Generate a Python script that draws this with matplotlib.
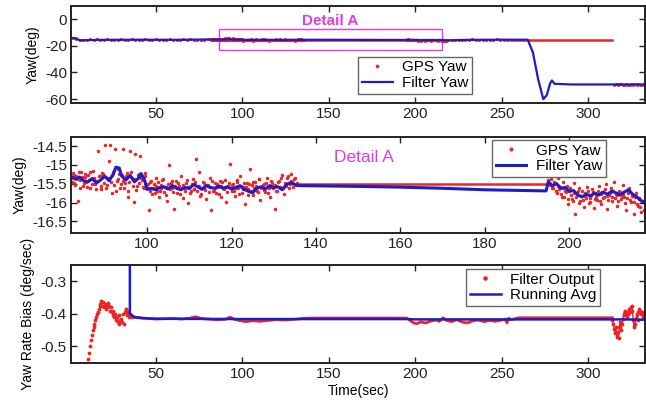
import numpy as np
import matplotlib
matplotlib.use("Agg")
from matplotlib import pyplot as plt
from matplotlib.patches import Rectangle

plt.rcParams["font.family"] = ["Liberation Sans", "DejaVu Sans"]
plt.rcParams["axes.unicode_minus"] = False

RED = "#ee2424"
BLUE = "#1c1cc8"
MAGENTA = "#e03ce0"

#=============================================================================
# GPS yaw (deg), noisy segments; sample times built from start + step
gps0_start, gps0_step = 2, 2
gps0_yaw = [-14.4, -15.2, -15.7, -15.4, -15.9, -15.3, -15.6, -15.1, -15.8, -15.5,
            -15.2, -15.7, -15.4, -15.9, -15.3, -15.6, -15.5, -15.0, -15.8, -15.4,
            -15.6, -15.2, -15.9, -15.5, -15.3, -15.7, -15.4, -15.8, -15.1, -15.6,
            -15.5, -15.9, -15.3, -15.6, -15.2, -15.7, -15.4, -15.8, -15.5, -15.3]

gpsA_start, gpsA_step = 82, 0.4
gpsA_yaw = [-15.35, -15.22, -15.48, -15.30, -15.95, -15.41, -15.18, -15.55, -15.33, -15.46,
            -15.27, -15.60, -15.38, -15.15, -15.50,
            -15.42, -14.62, -15.30, -15.65, -15.25, -14.48, -15.52, -15.36, -14.48, -15.75,
            -15.20, -14.58, -15.44, -15.10, -15.62,
            -15.28, -14.57, -15.48, -15.22, -15.70, -14.62, -15.35, -15.98, -14.70, -15.55,
            -15.25, -14.75, -15.40, -15.62, -15.30,
            -15.62, -16.21, -15.45, -15.78, -15.50, -15.35, -15.68, -15.85, -15.52, -15.40,
            -15.72, -15.58, -15.95, -15.01, -15.48,
            -15.60, -16.16, -15.42, -15.75, -15.55, -15.30, -15.88, -15.62, -15.48, -16.02,
            -15.58, -15.70, -15.38, -15.65, -14.84,
            -15.55, -15.20, -15.78, -15.45, -15.62, -15.90, -15.52, -15.35, -16.19, -15.68,
            -15.48, -15.75, -15.58, -15.42, -15.85,
            -15.60, -15.40, -15.98, -15.55, -14.97, -15.70, -15.50, -15.82, -15.45, -15.62,
            -15.30, -15.75, -15.58, -16.05, -15.48,
            -15.65, -15.10, -15.52, -15.80, -15.45, -15.68, -15.38, -15.92, -15.58, -15.50,
            -15.72, -15.35, -15.62, -15.85, -15.48,
            -15.55, -16.16, -15.70, -15.42, -15.60, -15.28, -15.78, -15.50, -15.35, -15.62,
            -15.25, -15.45, -15.38, -15.52]

# second receiver fix, interleaved half a step later
gpsA2_start, gpsA2_step = 82.2, 0.4
gpsA2_yaw = [-15.45, -15.28, -15.52, -15.38, -15.20, -15.62, -15.33, -15.47, -15.25, -15.58,
             -15.40, -15.18, -15.50, -15.35, -15.65, -15.42, -15.30, -15.55, -15.22, -15.48,
             -15.60, -15.35, -14.90, -15.45, -15.28, -15.52, -15.70, -15.38, -15.25, -15.50,
             -15.42, -15.62, -15.30, -15.85, -15.45, -15.20, -15.55, -15.38, -15.66, -15.28,
             -15.48, -15.35, -15.58, -15.22, -15.52,
             -15.50, -15.68, -15.42, -15.60, -15.75, -15.55, -15.45, -15.70, -15.62, -15.38,
             -15.58, -15.80, -15.50, -15.65, -15.42, -15.72, -15.55, -15.60, -15.48, -15.78,
             -15.62, -15.52, -15.68, -15.40, -15.58, -15.75, -15.50, -15.65, -15.45, -15.70,
             -15.55, -15.82, -15.60, -15.48, -15.66, -15.52, -15.72, -15.58, -15.42, -15.68,
             -15.62, -15.50, -15.78, -15.55, -15.45, -15.65, -15.58, -15.72, -15.48, -15.60,
             -15.52, -15.70, -15.62, -15.40, -15.76, -15.55, -15.65, -15.48, -15.58, -15.80,
             -15.50, -15.68, -15.45, -15.62, -15.55, -15.72, -15.38, -15.60, -15.52, -15.66,
             -15.48, -15.75, -15.58, -15.42, -15.62, -15.52, -15.70, -15.45, -15.58, -15.35,
             -15.62, -15.48, -15.55, -15.30, -15.50, -15.42, -15.58, -15.35, -15.48]

gpsB_start, gpsB_step = 195, 0.4
gpsB_yaw = [-15.40, -15.52, -15.30, -15.62, -15.48, -15.75, -15.35, -15.58, -15.85, -15.45,
            -15.70, -15.55, -16.05, -15.62, -15.90, -15.48, -16.30, -15.75, -15.60, -15.95,
            -15.70, -16.12, -15.82, -15.58, -16.00, -15.88, -15.65, -16.15, -15.78, -15.92,
            -15.55, -16.05, -15.72, -15.85, -15.50, -16.18, -15.80, -15.62, -15.95, -15.45,
            -15.78, -16.08, -15.68, -15.90, -15.52, -15.85, -16.20, -15.70, -15.60, -15.98,
            -15.82, -16.30, -15.75, -16.10, -15.88, -16.25, -15.95, -16.35]

gpsB2_start, gpsB2_step = 195.2, 0.4
gpsB2_yaw = [-15.50, -15.38, -15.60, -15.45, -15.70, -15.55, -15.65, -15.78, -15.62, -15.85,
             -15.72, -15.90, -15.68, -15.80, -15.95, -15.75, -15.85, -15.70, -16.00, -15.82,
             -15.92, -15.75, -15.88, -15.68, -15.98, -15.80, -15.72, -15.90, -15.85, -15.70,
             -15.95, -15.78, -15.88, -15.65, -15.82, -15.92, -15.75, -15.85, -15.70, -15.88,
             -15.80, -15.95, -15.72, -15.85, -15.78, -16.02, -15.88, -15.75, -15.92, -15.82,
             -15.98, -15.85, -16.05, -15.90, -16.12, -15.95, -16.20, -16.05]

gpsC_start, gpsC_step = 219, 2
gpsC_yaw = [-15.9, -15.6, -15.8, -15.4, -15.7, -15.5, -15.9, -15.3, -15.6, -15.8,
            -15.4, -15.7, -15.5, -15.6, -15.3, -15.7, -15.5, -15.6]

gpsD_start, gpsD_step = 315, 1
gpsD_yaw = [-49.3, -48.8, -49.5, -49.0, -48.7, -49.4, -49.1, -48.9, -49.6, -49.2,
            -48.8, -49.3, -49.0, -49.5, -48.9, -49.2, -49.4, -48.8, -49.1]

# GPS yaw held constant (no update) over these intervals
gps_hold_start = [135.4, 255]
gps_hold_end = [195, 314]
gps_hold_yaw = [-15.5, -15.5]

# Filter yaw (deg)
filt_t = [1, 4, 6, 10, 20, 40, 60, 82, 83, 84, 85, 86, 87, 88, 89, 90, 91, 92, 92.6, 93.4,
          94, 95, 96, 97, 98, 98.6, 99.4, 100, 101, 102, 103, 104, 105, 106, 107, 108, 109,
          110, 111, 112, 113, 114, 115, 116, 117, 118, 119, 120, 121, 122, 123, 124, 125,
          126, 127, 128, 129, 130, 131, 132, 133, 134, 135, 136, 150, 160, 170, 180, 194.5,
          195, 196, 197, 198, 199, 200, 201, 202, 203, 204, 205, 206, 207, 208, 209, 210,
          211, 212, 213, 214, 215, 216, 217, 218, 230, 250, 265, 268, 271, 274, 276, 278,
          279, 280.5, 290, 333]
filt_yaw = [-14.2, -14.4, -16.0, -15.8, -15.6, -15.5, -15.6, -15.30, -15.38, -15.32, -15.42,
            -15.45, -15.36, -15.48, -15.40, -15.30, -15.42, -15.25, -15.06, -15.08, -15.30,
            -15.40, -15.28, -15.45, -15.35, -15.23, -15.40, -15.65, -15.62, -15.66, -15.60,
            -15.58, -15.64, -15.55, -15.62, -15.66, -15.60, -15.63, -15.52, -15.58, -15.65,
            -15.55, -15.60, -15.62, -15.56, -15.62, -15.58, -15.64, -15.60, -15.55, -15.65,
            -15.70, -15.74, -15.62, -15.58, -15.64, -15.55, -15.60, -15.58, -15.66, -15.52,
            -15.47, -15.52, -15.55, -15.57, -15.59, -15.62, -15.66, -15.69, -15.45, -15.55,
            -15.50, -15.62, -15.60, -15.70, -15.68, -15.80, -15.85, -15.78, -15.82, -15.75,
            -15.80, -15.72, -15.78, -15.70, -15.74, -15.80, -15.72, -15.66, -15.78, -15.85,
            -15.95, -16.02, -15.6, -15.5, -15.5, -25.0, -45.0, -60.0, -57.0, -48.0, -46.0,
            -48.5, -49.0, -49.0]

# Yaw rate bias (deg/sec)
bias0_start, bias0_step = 10.5, 0.5
bias0 = [-0.56, -0.54, -0.52, -0.50, -0.48, -0.465, -0.45, -0.44, -0.43, -0.42,
         -0.41, -0.40, -0.395, -0.385, -0.375, -0.37, -0.36, -0.375, -0.365, -0.38,
         -0.37, -0.385, -0.372, -0.38, -0.368, -0.375, -0.39, -0.38, -0.395, -0.405,
         -0.39, -0.41, -0.40, -0.42, -0.41, -0.425, -0.405, -0.43, -0.42, -0.415,
         -0.425, -0.40, -0.43, -0.395, -0.385, -0.39, -0.405, -0.395, -0.41, -0.40,
         -0.405, -0.41]

bias1_t = [36, 40, 45, 50, 55, 60, 65, 70, 73, 76, 80, 85, 90, 93, 95, 98, 102, 106, 110,
           115, 120, 125, 130, 135, 140, 195, 197, 199, 201, 203, 206, 209, 212, 214, 216,
           218, 221, 224, 227, 230, 233, 236, 240, 243, 246, 250, 252, 253, 254, 255, 260, 314]
bias1 = [-0.41, -0.412, -0.414, -0.416, -0.415, -0.414, -0.416, -0.413, -0.409, -0.414,
         -0.416, -0.418, -0.417, -0.41, -0.416, -0.42, -0.424, -0.421, -0.423, -0.42,
         -0.418, -0.419, -0.417, -0.414, -0.413, -0.413, -0.42, -0.428, -0.43, -0.425,
         -0.428, -0.422, -0.419, -0.423, -0.412, -0.42, -0.424, -0.418, -0.425, -0.428,
         -0.422, -0.419, -0.424, -0.42, -0.423, -0.419, -0.416, -0.428, -0.413, -0.418,
         -0.412, -0.412]

bias2_start, bias2_step = 314, 0.5
bias2 = [-0.418, -0.43, -0.445, -0.46, -0.44, -0.47, -0.455, -0.475, -0.44, -0.425,
         -0.45, -0.43, -0.415, -0.40, -0.39, -0.405, -0.395, -0.41, -0.40, -0.385,
         -0.395, -0.38, -0.375, -0.39, -0.42, -0.44, -0.43, -0.415, -0.40, -0.42,
         -0.395, -0.385, -0.39, -0.40, -0.395, -0.41, -0.40, -0.405, -0.40]

avg_t = [35, 35, 36, 38, 42, 50, 100, 195, 200, 320, 333]
avg_bias = [-0.2, -0.40, -0.405, -0.41, -0.413, -0.415, -0.416, -0.416, -0.417, -0.417, -0.418]

detail_box = (86.4, 215.3, -23.5, -7.5)   # x0, x1, y0, y1 of Detail A
#=============================================================================


def times(start, step, vals):
    return start + step * np.arange(len(vals))


def style_axes(ax):
    ax.tick_params(direction="in", top=True, right=True, length=4, width=1,
                   labelsize=11, pad=3, colors="#222222")
    for s in ax.spines.values():
        s.set_linewidth(1.4)
        s.set_color("#222222")


def plot_gps(ax, ms):
    segs = [(gps0_start, gps0_step, gps0_yaw), (gpsA_start, gpsA_step, gpsA_yaw),
            (gpsA2_start, gpsA2_step, gpsA2_yaw), (gpsB_start, gpsB_step, gpsB_yaw),
            (gpsB2_start, gpsB2_step, gpsB2_yaw), (gpsC_start, gpsC_step, gpsC_yaw),
            (gpsD_start, gpsD_step, gpsD_yaw)]
    for i, (st, sp, v) in enumerate(segs):
        ax.plot(times(st, sp, v), v, ".", color=RED, ms=ms,
                label="GPS Yaw" if i == 0 else "_nolegend_")
    for a, b, v in zip(gps_hold_start, gps_hold_end, gps_hold_yaw):
        ax.plot([a, b], [v, v], "-", color=RED, lw=1.8)


fig = plt.figure(figsize=(6.46, 4.03), dpi=100)
ax1 = fig.add_axes([0.110, 0.744, 0.889, 0.242])
ax2 = fig.add_axes([0.110, 0.4226, 0.889, 0.2382])
ax3 = fig.add_axes([0.110, 0.100, 0.889, 0.2424])

leg_kw = dict(fontsize=11, frameon=True, fancybox=False, framealpha=1,
              edgecolor="#666666", borderaxespad=0, handlelength=2.0,
              borderpad=0.25, labelspacing=0.1, handletextpad=0.6, markerscale=1.3)

# top: full run
plot_gps(ax1, 2.5)
ax1.plot(filt_t, filt_yaw, "-", color=BLUE, lw=1.6, label="Filter Yaw")
x0, x1, y0, y1 = detail_box
ax1.add_patch(Rectangle((x0, y0), x1 - x0, y1 - y0, fill=False, ec=MAGENTA, lw=1.0))
ax1.text(151, -1.8, "Detail A", color=MAGENTA, fontsize=11, fontweight="bold",
         ha="center", va="center")
ax1.set_xlim(1, 333)
ax1.set_ylim(-63, 10)
ax1.set_xticks([50, 100, 150, 200, 250, 300])
ax1.set_yticks([0, -20, -40, -60])
ax1.set_ylabel("Yaw(deg)", fontsize=10)
ax1.legend(loc="upper left", bbox_to_anchor=(0.5, 0.477), **leg_kw)
style_axes(ax1)

# middle: Detail A
plot_gps(ax2, 3.0)
ax2.plot(filt_t, filt_yaw, "-", color=BLUE, lw=2.2, label="Filter Yaw")
ax2.text(151.4, -14.79, "Detail A", color=MAGENTA, fontsize=12.5, ha="center", va="center")
ax2.set_xlim(82, 218)
ax2.set_ylim(-16.8, -14.25)
ax2.set_xticks([100, 120, 140, 160, 180, 200])
ax2.set_yticks([-14.5, -15, -15.5, -16, -16.5])
ax2.set_yticklabels(["-14.5", "-15", "-15.5", "-16", "-16.5"])
ax2.set_ylabel("Yaw(deg)", fontsize=10)
ax2.legend(loc="upper left", bbox_to_anchor=(0.733, 0.966), **leg_kw)
style_axes(ax2)

# bottom: yaw rate bias
ax3.plot(times(bias0_start, bias0_step, bias0), bias0, ".", color=RED, ms=3.5,
         label="Filter Output")
ax3.plot(bias1_t, bias1, "-", color=RED, lw=2.0)
ax3.plot(times(bias2_start, bias2_step, bias2), bias2, ".-", color=RED, ms=3.5, lw=1.0)
ax3.plot(avg_t, avg_bias, "-", color=BLUE, lw=1.8, label="Running Avg")
ax3.set_xlim(1, 333)
ax3.set_ylim(-0.55, -0.25)
ax3.set_xticks([50, 100, 150, 200, 250, 300])
ax3.set_yticks([-0.3, -0.4, -0.5])
ax3.set_yticklabels(["-0.3", "-0.4", "-0.5"])
ax3.set_xlabel("Time(sec)", fontsize=10, labelpad=2)
ax3.set_ylabel("Yaw Rate Bias (deg/sec)", fontsize=10)
ax3.legend(loc="upper left", bbox_to_anchor=(0.688, 0.959), **leg_kw)
style_axes(ax3)

fig.savefig("out.png", dpi=100)
